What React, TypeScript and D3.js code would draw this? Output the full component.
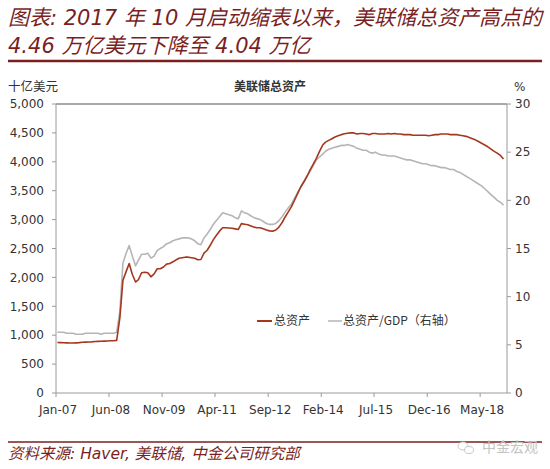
import React from "react";
import * as d3 from "d3";

const startYear = 2007;
const totalAssets: number[] = [
  // 2007
  875, 872, 870, 868, 866, 865, 868, 872, 878, 880, 882, 885,
  // 2008
  890, 893, 895, 898, 900, 903, 905, 910, 1300, 1950, 2100, 2240,
  // 2009
  2050, 1920, 1960, 2080, 2090, 2080, 2010, 2060, 2150, 2150, 2180, 2230,
  // 2010
  2240, 2270, 2300, 2330, 2340, 2350, 2350, 2340, 2330, 2305, 2310, 2420,
  // 2011
  2470, 2560, 2650, 2730, 2800, 2860, 2860, 2855, 2850, 2840, 2830, 2930,
  // 2012
  2920, 2910, 2890, 2870, 2860, 2860, 2840, 2820, 2805, 2800, 2820, 2870,
  // 2013
  2950, 3050, 3130, 3220, 3330, 3450, 3560, 3650, 3750, 3860, 3960, 4060,
  // 2014
  4180, 4290, 4340, 4370, 4400, 4430, 4450, 4470, 4485, 4495, 4500, 4500,
  // 2015
  4480, 4490, 4490, 4480, 4470, 4490, 4490, 4480, 4480, 4480, 4490, 4480,
  // 2016
  4490, 4480, 4480, 4470, 4470, 4470, 4460, 4460, 4460, 4460, 4460, 4450,
  // 2017
  4460, 4470, 4470, 4480, 4480, 4480, 4470, 4470, 4470, 4460, 4450, 4440,
  // 2018
  4420, 4400, 4380, 4350, 4320, 4290, 4260, 4220, 4180, 4150, 4110, 4050,
];

const assetsToGdp: number[] = [
  // 2007
  6.3, 6.3, 6.3, 6.2, 6.2, 6.2, 6.1, 6.1, 6.1, 6.2, 6.2, 6.2,
  // 2008
  6.2, 6.2, 6.1, 6.2, 6.2, 6.2, 6.2, 6.3, 8.5, 13.5, 14.5, 15.3,
  // 2009
  14.2, 13.2, 13.8, 14.4, 14.4, 14.5, 14.0, 14.2, 14.8, 15.0, 15.2, 15.5,
  // 2010
  15.6, 15.8, 15.9, 16.0, 16.1, 16.1, 16.1, 16.0, 15.8, 15.5, 15.4, 16.1,
  // 2011
  16.5, 17.0, 17.5, 17.9, 18.3, 18.7, 18.6, 18.5, 18.4, 18.2, 18.1, 18.9,
  // 2012
  18.7, 18.6, 18.4, 18.2, 18.1, 18.0, 17.8, 17.6, 17.5, 17.5, 17.6, 17.9,
  // 2013
  18.3, 18.8, 19.2, 19.6, 20.2, 20.8, 21.4, 22.0, 22.5, 23.0, 23.6, 24.2,
  // 2014
  24.5, 24.8, 25.1, 25.3, 25.4, 25.5, 25.6, 25.7, 25.7, 25.8, 25.7, 25.6,
  // 2015
  25.4, 25.3, 25.2, 25.2, 25.0, 24.9, 25.0, 24.8, 24.7, 24.7, 24.6, 24.6,
  // 2016
  24.6, 24.5, 24.4, 24.3, 24.2, 24.2, 24.1, 24.0, 23.9, 23.8, 23.8, 23.7,
  // 2017
  23.6, 23.6, 23.5, 23.4, 23.4, 23.3, 23.2, 23.2, 23.0, 22.9, 22.7, 22.5,
  // 2018
  22.3, 22.1, 21.9, 21.7, 21.5, 21.2, 20.9, 20.6, 20.3, 20.0, 19.8, 19.5,
];

const xTickLabels = ["Jan-07", "Jun-08", "Nov-09", "Apr-11", "Sep-12", "Feb-14", "Jul-15", "Dec-16", "May-18"];
const leftTicks = [0, 500, 1000, 1500, 2000, 2500, 3000, 3500, 4000, 4500, 5000];
const rightTicks = [0, 5, 10, 15, 20, 25, 30];

const titleLine1 = "图表: 2017 年 10 月启动缩表以来，美联储总资产高点的";
const titleLine2 = "4.46 万亿美元下降至 4.04 万亿";
const chartTitle = "美联储总资产";
const leftUnit = "十亿美元";
const rightUnit = "%";
const seriesNames = ["总资产", "总资产/GDP（右轴）"];
const sourceText = "资料来源: Haver, 美联储, 中金公司研究部";
const watermark = "中金宏观";

const W = 550;
const H = 469;
const plot = { left: 56, right: 507, top: 104, bottom: 393 };

const RED = "#A5371E";
const GRAY = "#B5B5B5";
const MAROON = "#7A1F1F";
const LATIN = "'DejaVu Sans', 'Noto Sans CJK SC', sans-serif";
const CJK = "'Noto Sans CJK SC', 'DejaVu Sans', sans-serif";

const monthNames = ["Jan", "Feb", "Mar", "Apr", "May", "Jun", "Jul", "Aug", "Sep", "Oct", "Nov", "Dec"];

function parseTick(label: string): Date {
  const [m, y] = label.split("-");
  return new Date(2000 + Number(y), monthNames.indexOf(m), 1);
}

export default function App() {
  const x = d3
    .scaleTime()
    .domain([new Date(2007, 0, 1), new Date(2019, 0, 18)])
    .range([plot.left, plot.right]);
  const yL = d3.scaleLinear().domain([0, 5000]).range([plot.bottom, plot.top]);
  const yR = d3.scaleLinear().domain([0, 30]).range([plot.bottom, plot.top]);

  const dateOf = (i: number) => new Date(startYear, i, 15);

  const redLine = d3
    .line<number>()
    .x((_, i) => x(dateOf(i)))
    .y((d) => yL(d))(totalAssets) as string;
  const grayLine = d3
    .line<number>()
    .x((_, i) => x(dateOf(i)))
    .y((d) => yR(d))(assetsToGdp) as string;

  const axisColor = "#9a9a9a";
  const textColor = "#333";

  return (
    <svg
      width={W}
      height={H}
      viewBox={`0 0 ${W} ${H}`}
      style={{ position: "absolute", left: 0, top: 0, background: "#fff" }}
    >
      <rect x={0} y={0} width={W} height={H} fill="#fff" />
      {/* Title */}
      <g fill={MAROON} fontFamily={LATIN} fontSize={21} fontStyle="italic">
        <text x={8} y={25}>{titleLine1}</text>
        <text x={8} y={53}>{titleLine2}</text>
      </g>
      <line x1={8} x2={542} y1={61} y2={61} stroke={MAROON} strokeWidth={2.5} />

      {/* header labels */}
      <text x={8} y={91} fontFamily={CJK} fontSize={12.5} fill={textColor}>{leftUnit}</text>
      <text x={270} y={91} textAnchor="middle" fontFamily={CJK} fontSize={12} fontWeight="bold" fill={textColor}>
        {chartTitle}
      </text>
      <text x={514} y={91} fontFamily={LATIN} fontSize={12} fill={textColor}>{rightUnit}</text>

      {/* plot frame */}
      <line x1={plot.left} x2={plot.right} y1={plot.top} y2={plot.top} stroke="#555" strokeWidth={1} />
      <line x1={plot.left} x2={plot.left} y1={plot.top} y2={plot.bottom} stroke={axisColor} />
      <line x1={plot.right} x2={plot.right} y1={plot.top} y2={plot.bottom} stroke={axisColor} />
      <line x1={plot.left} x2={plot.right} y1={plot.bottom} y2={plot.bottom} stroke={axisColor} />

      {/* left axis */}
      <g fontFamily={LATIN} fontSize={12} fill={textColor}>
        {leftTicks.map((t) => (
          <g key={"l" + t}>
            <line x1={plot.left - 4} x2={plot.left} y1={yL(t)} y2={yL(t)} stroke={axisColor} />
            <text x={plot.left - 12} y={yL(t)} dy="0.35em" textAnchor="end">
              {d3.format(",")(t)}
            </text>
          </g>
        ))}
      </g>

      {/* right axis */}
      <g fontFamily={LATIN} fontSize={12} fill={textColor}>
        {rightTicks.map((t) => (
          <g key={"r" + t}>
            <line x1={plot.right} x2={plot.right + 4} y1={yR(t)} y2={yR(t)} stroke={axisColor} />
            <text x={plot.right + 8} y={yR(t)} dy="0.35em" textAnchor="start">
              {t}
            </text>
          </g>
        ))}
      </g>

      {/* x axis */}
      <g fontFamily={LATIN} fontSize={12} fill={textColor}>
        {xTickLabels.map((lab) => {
          const px = x(parseTick(lab));
          return (
            <g key={lab}>
              <line x1={px} x2={px} y1={plot.bottom} y2={plot.bottom + 4} stroke={axisColor} />
              <text x={px + 2} y={plot.bottom + 21} textAnchor="middle">
                {lab}
              </text>
            </g>
          );
        })}
      </g>

      {/* lines */}
      <path d={grayLine} fill="none" stroke={GRAY} strokeWidth={1.6} strokeLinejoin="round" />
      <path d={redLine} fill="none" stroke={RED} strokeWidth={1.6} strokeLinejoin="round" />

      {/* legend */}
      <g fontFamily={CJK} fontSize={12} fill={textColor}>
        <line x1={257} x2={272} y1={321} y2={321} stroke={RED} strokeWidth={2} />
        <text x={274} y={325}>{seriesNames[0]}</text>
        <line x1={328} x2={342} y1={321} y2={321} stroke={GRAY} strokeWidth={1.5} />
        <text x={343} y={325}>{seriesNames[1]}</text>
      </g>

      {/* footer */}
      <line x1={8} x2={542} y1={442} y2={442} stroke={MAROON} strokeWidth={1.5} />
      <text x={8} y={459} fontFamily={LATIN} fontSize={15.5} fontStyle="italic" fill={MAROON}>
        {sourceText}
      </text>
      <g stroke="#c8c8c8" fill="#fff" strokeWidth={1}>
        <ellipse cx={463} cy={446} rx={5} ry={4} />
        <ellipse cx={469} cy={450} rx={4.5} ry={3.5} />
      </g>
      <text x={538} y={452} textAnchor="end" fontFamily={CJK} fontSize={14} fill="#c4c4c4">
        {watermark}
      </text>
    </svg>
  );
}
